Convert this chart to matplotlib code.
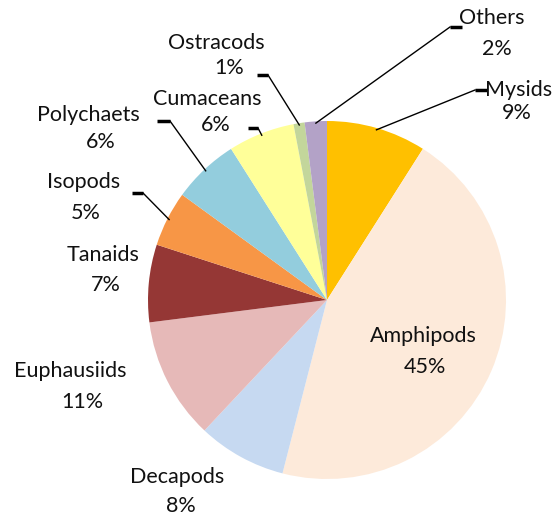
import numpy as np
import matplotlib
matplotlib.use("Agg")
import matplotlib.pyplot as plt

# prey groups, clockwise from 12 o'clock
groups = ["Mysids", "Amphipods", "Decapods", "Euphausiids", "Tanaids",
          "Isopods", "Polychaets", "Cumaceans", "Ostracods", "Others"]
shares = [9, 45, 8, 11, 7, 5, 6, 6, 1, 2]
colors = ["#FFC000", "#FDEADA", "#C6D9F1", "#E6B9B8", "#953735",
          "#F79646", "#93CDDD", "#FFFF99", "#C3D69B", "#B3A2C7"]

W, H = 555, 518
CX, CY, R = 327, 300, 179   # pixel coords, y measured from top

# label placement (pixel coords from top): name center, percent center
name_pos = {"Others": (492, 18), "Mysids": (519, 90), "Ostracods": (216, 43),
            "Cumaceans": (207, 99), "Polychaets": (88, 115), "Isopods": (84, 182),
            "Tanaids": (103, 255), "Euphausiids": (70, 371), "Decapods": (177, 477),
            "Amphipods": (423, 336)}
pct_pos = {"Others": (497, 49), "Mysids": (517, 113), "Ostracods": (229, 68),
           "Cumaceans": (216, 125), "Polychaets": (101, 142), "Isopods": (86, 213),
           "Tanaids": (106, 285), "Euphausiids": (82, 402), "Decapods": (181, 506),
           "Amphipods": (425, 367)}
# leader lines: short horizontal tick (x0, x1, y), the line leaves from x_join
leaders = {"Others": (450, 462, 27, 450), "Mysids": (475, 487, 90, 475),
           "Ostracods": (257, 268, 75, 268), "Cumaceans": (248, 258, 128, 258),
           "Polychaets": (157, 170, 121, 170), "Isopods": (132, 143, 193, 143)}

plt.rcParams["font.family"] = ["Lato", "DejaVu Sans"]

fig = plt.figure(figsize=(W / 100, H / 100), dpi=100)
ax = fig.add_axes([0, 0, 1, 1])

wedges, _ = ax.pie(shares, colors=colors, startangle=90, counterclock=False,
                   center=(CX, H - CY), radius=R, wedgeprops=dict(linewidth=0))
ax.set_xlim(0, W)
ax.set_ylim(0, H)
ax.axis("off")

txt = dict(fontsize=15.5, color="#111111", ha="center", va="center")
for g, w, s in zip(groups, wedges, shares):
    nx, ny = name_pos[g]
    px, py = pct_pos[g]
    ax.text(nx, H - ny, g, **txt)
    ax.text(px, H - py, f"{s}%", **txt)
    if g in leaders:
        x0, x1, ly, xj = leaders[g]
        mid = np.deg2rad((w.theta1 + w.theta2) / 2)
        ex = CX + R * 0.99 * np.cos(mid)
        ey = (H - CY) + R * 0.99 * np.sin(mid)
        ax.plot([x0, x1], [H - ly, H - ly], color="black", lw=2.5,
                solid_capstyle="butt")
        ax.plot([xj, ex], [H - ly, ey], color="black", lw=1)

fig.savefig("out.png", dpi=100)
